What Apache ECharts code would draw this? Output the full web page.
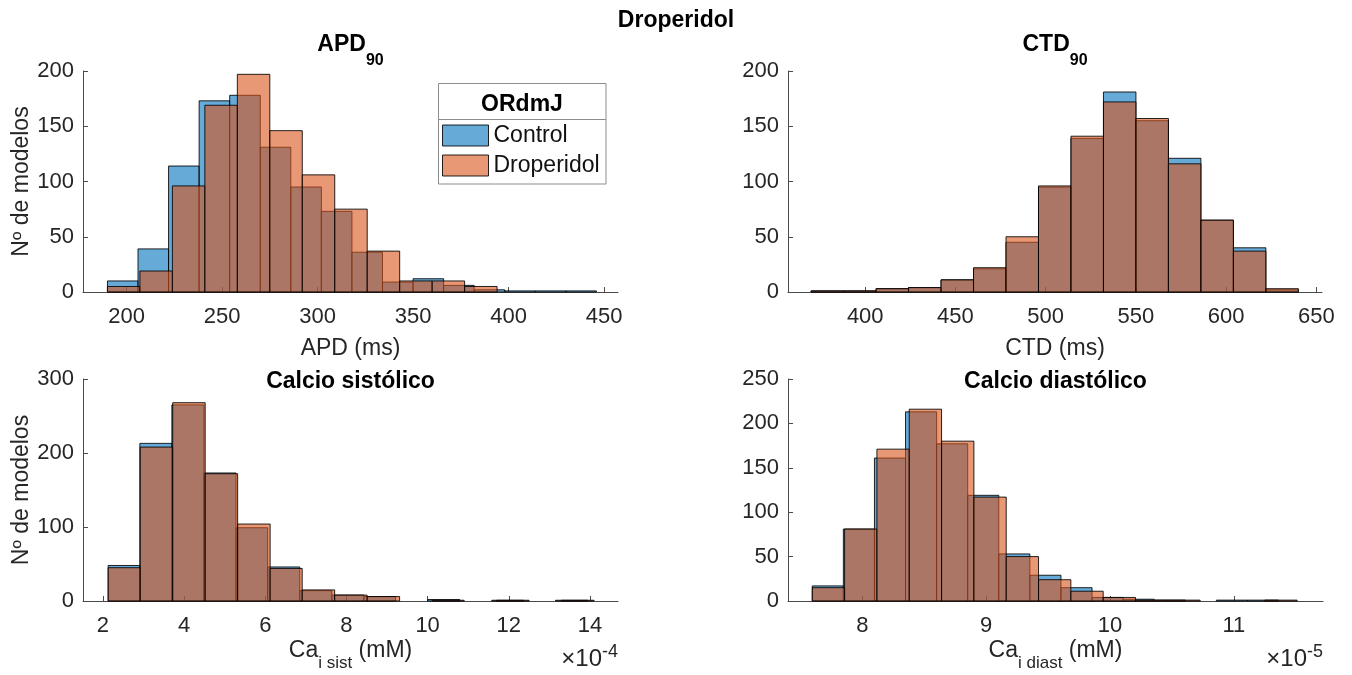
<!DOCTYPE html>
<html>
<head>
<meta charset="utf-8">
<script src="https://cdn.jsdelivr.net/npm/echarts@6/dist/echarts.min.js"></script>
<style>
  html, body { margin: 0; padding: 0; background: #fff; }
  #chart { width: 1352px; height: 675px; }
</style>
</head>
<body>
<div id="chart"></div>
<script>
// ---- APD90 (ms): bin edges and counts per population ----
const apdControlEdges = [190, 206, 222, 238, 254, 270, 286, 302, 318, 334, 350, 366, 382, 398, 414, 430, 446];
const apdControlCounts = [10, 39, 114, 173, 178, 131, 95, 73, 36, 9, 12, 6, 2, 1, 1, 1];
const apdDroperidolEdges = [190, 207, 224, 241, 258, 275, 292, 309, 326, 343, 360, 377, 394];
const apdDroperidolCounts = [5, 19, 96, 169, 197, 146, 106, 75, 37, 10, 10, 5];

// ---- CTD90 (ms) ----
const ctdEdges = [370, 388, 406, 424, 442, 460, 478, 496, 514, 532, 550, 568, 586, 604, 622, 640];
const ctdControlCounts = [1, 1, 3, 4, 11, 21, 45, 95, 139, 181, 155, 121, 65, 40, 2];
const ctdDroperidolCounts = [1, 1, 3, 4, 11, 22, 50, 96, 141, 172, 157, 116, 65, 37, 3];

// ---- Systolic Ca (units of 1e-4 mM) ----
const caSistControlEdges = [2.13, 2.91, 3.70, 4.49, 5.28, 6.06, 6.85, 7.64, 8.43, 9.21, 10.00, 10.79, 11.58, 12.36, 13.15, 13.94];
const caSistControlCounts = [48, 213, 265, 173, 99, 46, 14, 8, 6, 0, 2, 0, 1, 0, 1];
const caSistDroperidolEdges = [2.13, 2.92, 3.72, 4.52, 5.32, 6.12, 6.91, 7.71, 8.51, 9.31, 10.11, 10.90, 11.70, 12.50, 13.30, 14.10];
const caSistDroperidolCounts = [45, 208, 268, 172, 104, 44, 15, 8, 6, 0, 1, 0, 1, 0, 1];

// ---- Diastolic Ca (units of 1e-5 mM) ----
const caDiastControlEdges = [7.596, 7.847, 8.098, 8.349, 8.600, 8.851, 9.102, 9.353, 9.604, 9.855, 10.106, 10.357, 10.608, 10.859, 11.110, 11.361];
const caDiastControlCounts = [17, 81, 161, 213, 177, 119, 53, 29, 15, 4, 2, 1, 0, 1, 1];
const caDiastDroperidolEdges = [7.596, 7.857, 8.118, 8.379, 8.640, 8.901, 9.162, 9.423, 9.684, 9.945, 10.206, 10.467, 10.728, 10.989, 11.250, 11.511];
const caDiastDroperidolCounts = [15, 81, 171, 216, 180, 117, 50, 24, 11, 4, 1, 1, 0, 0, 1];

// ---- tick labels ----
const apdTicks = [200, 250, 300, 350, 400, 450];
const ctdTicks = [400, 450, 500, 550, 600, 650];
const caSistTicks = [2, 4, 6, 8, 10, 12, 14];
const caDiastTicks = [8, 9, 10, 11];

const seriesNames = ['Control', 'Droperidol'];

// ---- styling ----
const FONT = '"Liberation Sans", Arial, Helvetica, sans-serif';
const AXIS_COLOR = '#4a4a4a';
const TEXT_COLOR = '#262626';
const EDGE_COLOR = 'rgba(0,0,0,0.85)';
const CONTROL_FILL = 'rgba(0,114,189,0.6)';
const DROPERIDOL_FILL = 'rgba(217,83,25,0.6)';
const TICK_FONT = 22;
const LABEL_FONT = 23;
const TITLE_FONT = 23;

const grids = [
  { left: 83, top: 71, width: 535, height: 221 },
  { left: 788, top: 71, width: 534, height: 221 },
  { left: 83, top: 379, width: 535, height: 222 },
  { left: 788, top: 379, width: 535, height: 222 }
].map(g => Object.assign({ outerBoundsMode: 'none', containLabel: false }, g));

const subRich = {
  m: { fontSize: LABEL_FONT, fontFamily: FONT, color: TEXT_COLOR, lineHeight: 23 },
  s: { fontSize: 17, fontFamily: FONT, color: TEXT_COLOR, lineHeight: 17, padding: [25, 0, 0, 0] }
};

function xAxisCfg(gi, min, max, ticks, name, gap) {
  return {
    type: 'value', gridIndex: gi, min, max,
    name, nameLocation: 'middle', nameGap: gap, nameMoveOverlap: false,
    nameTextStyle: { fontSize: LABEL_FONT, fontFamily: FONT, color: TEXT_COLOR, rich: subRich },
    axisLine: { show: true, onZero: false, lineStyle: { color: AXIS_COLOR, width: 1 } },
    axisTick: { show: true, inside: true, length: 5, customValues: ticks, lineStyle: { color: AXIS_COLOR, width: 1 } },
    axisLabel: { customValues: ticks, margin: 14, fontSize: TICK_FONT, fontFamily: FONT, color: TEXT_COLOR },
    splitLine: { show: false }
  };
}

function yAxisCfg(gi, max, interval, withName) {
  return {
    type: 'value', gridIndex: gi, min: 0, max, interval,
    name: withName ? 'Nº de modelos' : '', nameLocation: 'middle', nameGap: 50, nameMoveOverlap: false,
    nameTextStyle: { fontSize: LABEL_FONT, fontFamily: FONT, color: TEXT_COLOR },
    axisLine: { show: true, lineStyle: { color: AXIS_COLOR, width: 1 } },
    axisTick: { show: true, inside: true, length: 5, lineStyle: { color: AXIS_COLOR, width: 1 } },
    axisLabel: { margin: 9, fontSize: TICK_FONT, fontFamily: FONT, color: TEXT_COLOR },
    splitLine: { show: false }
  };
}

// One histogram = a custom series of rectangles [leftEdge, rightEdge, count]
function histSeries(name, edges, counts, axisIndex, fill) {
  const data = counts.map((c, i) => [edges[i], edges[i + 1], c]);
  return {
    type: 'custom', name, xAxisIndex: axisIndex, yAxisIndex: axisIndex,
    data, encode: { x: [0, 1], y: 2 }, silent: true,
    itemStyle: { color: fill },
    renderItem(params, api) {
      const count = api.value(2);
      if (!count) return null;
      const topLeft = api.coord([api.value(0), count]);
      const bottomRight = api.coord([api.value(1), 0]);
      return {
        type: 'rect',
        shape: { x: topLeft[0], y: topLeft[1], width: bottomRight[0] - topLeft[0], height: bottomRight[1] - topLeft[1] },
        style: { fill, stroke: EDGE_COLOR, lineWidth: 1 }
      };
    }
  };
}

function richTitle(x, y, main, sub) {
  return {
    type: 'text', x, y,
    style: {
      text: sub ? '{m|' + main + '}{s|' + sub + '}' : '{m|' + main + '}',
      align: 'center', verticalAlign: 'middle',
      rich: {
        m: { fontSize: TITLE_FONT, fontWeight: 'bold', fontFamily: FONT, fill: '#000', lineHeight: 23, verticalAlign: 'middle' },
        s: { fontSize: 16, fontWeight: 'bold', fontFamily: FONT, fill: '#000', lineHeight: 16, verticalAlign: 'middle', padding: [33, 0, 0, 0] }
      }
    }
  };
}

// "×10^exp" scale note placed under the right end of an x axis
function exponentLabel(x, y, exp) {
  return {
    type: 'text', x, y,
    style: {
      text: '{m|\u00d710}{s|' + exp + '}',
      align: 'right', verticalAlign: 'middle',
      rich: {
        m: { fontSize: 24, fontFamily: FONT, fill: TEXT_COLOR, lineHeight: 24, verticalAlign: 'middle' },
        s: { fontSize: 18, fontFamily: FONT, fill: TEXT_COLOR, lineHeight: 18, verticalAlign: 'middle', padding: [0, 0, 14, 0] }
      }
    }
  };
}

const option = {
  animation: false,
  backgroundColor: '#fff',
  grid: grids,
  xAxis: [
    xAxisCfg(0, 177.2, 457.3, apdTicks, '{m|APD (ms)}', 45),
    xAxisCfg(1, 357.2, 653.1, ctdTicks, '{m|CTD (ms)}', 45),
    xAxisCfg(2, 1.51, 14.69, caSistTicks, '{m|Ca}{s|i sist}{m| (mM)}', 38),
    xAxisCfg(3, 7.40, 11.72, caDiastTicks, '{m|Ca}{s|i diast}{m| (mM)}', 38)
  ],
  yAxis: [
    yAxisCfg(0, 200, 50, true),
    yAxisCfg(1, 200, 50, false),
    yAxisCfg(2, 300, 100, true),
    yAxisCfg(3, 250, 50, false)
  ],
  legend: {
    data: seriesNames,
    orient: 'vertical', left: 442, top: 124,
    itemWidth: 46, itemHeight: 21, itemGap: 7,
    icon: 'rect', selectedMode: false, padding: 0,
    itemStyle: { borderColor: EDGE_COLOR, borderWidth: 1 },
    textStyle: { fontSize: LABEL_FONT, fontFamily: FONT, color: '#111' }
  },
  graphic: [
    { type: 'text', x: 676, y: 21, style: { text: 'Droperidol', fontSize: TITLE_FONT, fontWeight: 'bold', fontFamily: FONT, fill: '#000', align: 'center', verticalAlign: 'middle' } },
    richTitle(350.5, 44.5, 'APD', '90'),
    richTitle(1055, 44.5, 'CTD', '90'),
    richTitle(350.5, 382, 'Calcio sistólico'),
    richTitle(1055.5, 382, 'Calcio diastólico'),
    exponentLabel(618, 659, '-4'),
    exponentLabel(1323, 659, '-5'),
    // legend frame with its heading
    { type: 'rect', shape: { x: 438.5, y: 83.5, width: 167.5, height: 100.5 }, style: { fill: 'none', stroke: '#8c8c8c', lineWidth: 1 } },
    { type: 'line', shape: { x1: 438.5, y1: 119.5, x2: 606, y2: 119.5 }, style: { stroke: '#8c8c8c', lineWidth: 1 } },
    { type: 'text', x: 522, y: 105, style: { text: 'ORdmJ', fontSize: LABEL_FONT, fontWeight: 'bold', fontFamily: FONT, fill: '#000', align: 'center', verticalAlign: 'middle' } }
  ],
  series: [
    histSeries(seriesNames[0], apdControlEdges, apdControlCounts, 0, CONTROL_FILL),
    histSeries(seriesNames[1], apdDroperidolEdges, apdDroperidolCounts, 0, DROPERIDOL_FILL),
    histSeries(seriesNames[0], ctdEdges, ctdControlCounts, 1, CONTROL_FILL),
    histSeries(seriesNames[1], ctdEdges, ctdDroperidolCounts, 1, DROPERIDOL_FILL),
    histSeries(seriesNames[0], caSistControlEdges, caSistControlCounts, 2, CONTROL_FILL),
    histSeries(seriesNames[1], caSistDroperidolEdges, caSistDroperidolCounts, 2, DROPERIDOL_FILL),
    histSeries(seriesNames[0], caDiastControlEdges, caDiastControlCounts, 3, CONTROL_FILL),
    histSeries(seriesNames[1], caDiastDroperidolEdges, caDiastDroperidolCounts, 3, DROPERIDOL_FILL)
  ]
};

const chart = echarts.init(document.getElementById('chart'), null, { renderer: 'canvas' });
chart.setOption(option);
</script>
</body>
</html>
